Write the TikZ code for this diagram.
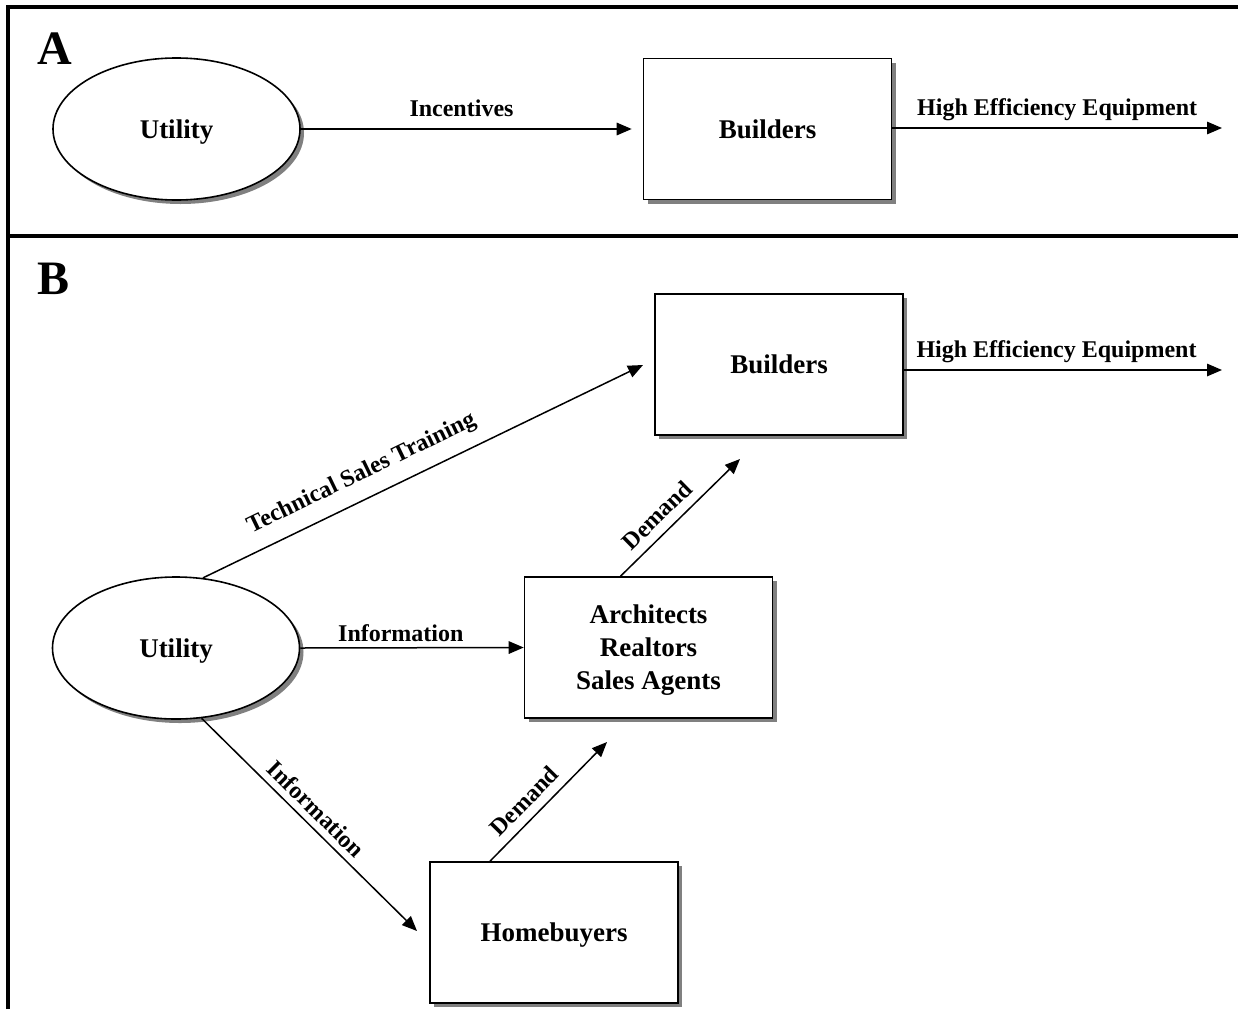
\documentclass[tikz,border=0pt]{standalone}
\usepackage{fontspec}
\setmainfont{Liberation Serif}
\usetikzlibrary{shadows,arrows.meta,calc,shapes.geometric}
\begin{document}
\begin{tikzpicture}[x=1pt,y=-1pt,
  frame/.style={line width=4pt, line join=miter},
  shad/.style={drop shadow={shadow xshift=4pt, shadow yshift=-4pt, fill=black!50, opacity=1}},
  box/.style={draw, line width=1.6pt, fill=white, minimum width=248pt, minimum height=141pt,
    inner sep=0pt, text depth=0pt, font=\fontsize{27}{33}\selectfont\bfseries, align=center, shad},
  oval/.style={ellipse, draw, line width=1.6pt, fill=white, minimum width=247pt, minimum height=142pt,
    inner sep=0pt, text depth=0pt, font=\fontsize{27}{33}\selectfont\bfseries, shad},
  big/.style={inner sep=0pt, font=\fontsize{48}{50}\selectfont\bfseries},
  lab/.style={inner sep=0pt, text depth=0pt, font=\fontsize{24}{28}\selectfont\bfseries},
  conn/.style={line width=1.5pt, -{Triangle[length=15pt,width=12.5pt]}}
]
\useasboundingbox (0,0) rectangle (1238,1009);
\draw[frame] (8,1009) -- (8,6.5) -- (1238,6.5);
\draw[frame] (8,235.5) -- (1238,235.5);

% Panel A
\node[big] (lA) at (55,48.5) {A};
\node[oval] (uA) at (176.5,129) {Utility};
\node[box] (bA) at (767.5,129) {Builders};
\coordinate (eA) at (1222,128);
\draw[conn, shorten >=11pt] (uA) -- node[lab, above=12pt, pos=0.47]{Incentives} (bA);
\draw[conn] (bA.east |- eA) -- node[lab, above=12pt]{High Efficiency Equipment} (eA);

% Panel B
\node[big] (lB) at (54,279) {B};
\node[box] (bB) at (779,364.5) {Builders};
\node[oval] (uB) at (176,648) {Utility};
\node[box] (aB) at (648.5,647.5) {Architects\\Realtors\\Sales Agents};
\node[box] (hB) at (554,932.5) {Homebuyers};
\coordinate (eB) at (1222,370);
\coordinate (t1) at (643,365);
\coordinate (t3) at (417,931);
\coordinate (t4) at (740,459);
\coordinate (t5) at (607,742);

\draw[conn] (bB.east |- eB) -- node[lab, above=12pt, pos=0.48]{High Efficiency Equipment} (eB);
\draw[conn] (uB.69) -- node[lab, sloped, above=18pt, pos=0.385]{Technical Sales Training} (t1);
\draw[conn] (uB.east) -- node[lab, above=5.5pt, pos=0.45]{Information} (aB.west);
\draw[conn] (uB.-70) -- node[lab, sloped, above=7pt, pos=0.48]{Information} (t3);
\draw[conn] ($(aB.north)+(-28,0)$) -- node[lab, sloped, above=9pt, pos=0.41]{Demand} (t4);
\draw[conn] ($(hB.north)+(-64,0)$) -- node[lab, sloped, above=9pt, pos=0.40]{Demand} (t5);
\end{tikzpicture}
\end{document}
